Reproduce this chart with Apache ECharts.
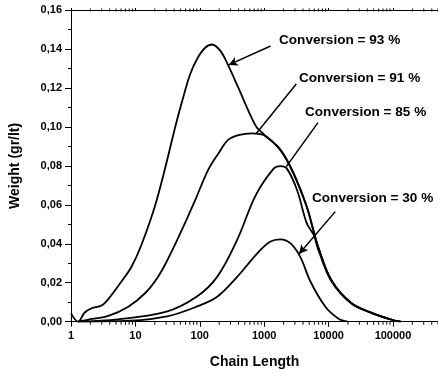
<!DOCTYPE html>
<html>
<head>
<meta charset="utf-8">
<script src="https://cdn.jsdelivr.net/npm/echarts@6/dist/echarts.min.js"></script>
<style>
html,body{margin:0;padding:0;background:#fff;}
#chart{width:438px;height:376px;}
</style>
</head>
<body>
<div id="chart"></div>
<script>
// ---- data ----
const chainLength93 = [1, 1.29, 1.62, 2.09, 2.82, 3.31, 4.27, 6.03, 8.71, 12.6, 21.4, 44.7, 56.2, 70.8, 91.2, 120, 155, 209, 275, 398, 631, 776, 933, 1096, 1778, 2818, 4571, 5888, 6918, 10965, 22387, 46774, 95499, 131826];
const weight93      = [0.0043, 0.0, 0.0046, 0.0069, 0.0080, 0.0094, 0.0137, 0.0205, 0.0282, 0.040, 0.0624, 0.104, 0.116, 0.127, 0.135, 0.1405, 0.1423, 0.139, 0.1317, 0.120, 0.105, 0.0995, 0.097, 0.0948, 0.0885, 0.0768, 0.0593, 0.0463, 0.0383, 0.0216, 0.0097, 0.0045, 0.001, 0.0];

const chainLength91 = [1.29, 2.09, 3.8, 7.76, 14.1, 22.4, 32.4, 52.5, 85.1, 135, 195, 275, 398, 646, 977, 1778, 2818, 4571, 5888, 6918, 10965, 22387, 46774, 95499, 131826];
const weight91      = [0.0, 0.0014, 0.003, 0.0077, 0.0146, 0.023, 0.0325, 0.047, 0.0625, 0.0779, 0.0864, 0.0933, 0.0958, 0.0967, 0.0958, 0.088, 0.0763, 0.059, 0.046, 0.038, 0.0214, 0.0096, 0.0045, 0.001, 0.0];

const chainLength85 = [1.29, 5.37, 29.5, 89.1, 186, 380, 741, 1413, 1778, 2239, 3236, 4571, 5888, 6918, 10965, 22387, 46774, 95499, 131826];
const weight85      = [0.0, 0.0012, 0.005, 0.0128, 0.023, 0.042, 0.065, 0.0787, 0.0799, 0.0787, 0.0676, 0.0506, 0.0445, 0.037, 0.021, 0.0094, 0.0044, 0.001, 0.0];

const chainLength30 = [1.29, 8.3, 32.4, 89.1, 186, 380, 776, 1230, 1778, 2570, 3631, 5248, 8913, 14125, 19953];
const weight30      = [0.0, 0.0005, 0.0029, 0.0077, 0.0128, 0.023, 0.035, 0.041, 0.0423, 0.0402, 0.0333, 0.0205, 0.0077, 0.0017, 0.0];

const seriesNames = ['Conversion = 93 %', 'Conversion = 91 %', 'Conversion = 85 %', 'Conversion = 30 %'];
// arrows: [fromX, fromY, toX, toY, hasHead]
const arrows = [
  [1259, 0.1415, 281, 0.1318, true],
  [3148, 0.1220, 754, 0.0966, false],
  [6842, 0.1022, 2203, 0.0796, false],
  [12700, 0.0565, 3470, 0.0348, true]
];
const xTickLabels = [1, 10, 100, 1000, 10000, 100000];
const yMin = 0, yMax = 0.16, yInterval = 0.02;
const xMin = 1, xMax = 500000;

// minor tick positions (2..9 × decades) for the log axis
const minorTicks = [];
for (let d = 1; d <= 100000; d *= 10) {
  for (let m = 2; m <= 9; m++) { const v = m * d; if (v <= xMax) minorTicks.push(v); }
}

function pairs(xs, ys) { return xs.map((x, i) => [x, ys[i]]); }

const FONT = '"Liberation Sans", Arial, sans-serif';
const chart = echarts.init(document.getElementById('chart'), null, {renderer: 'canvas'});

const lineSeries = [
  [chainLength93, weight93], [chainLength91, weight91], [chainLength85, weight85], [chainLength30, weight30]
].map((d, i) => ({
  name: seriesNames[i],
  type: 'line',
  data: pairs(d[0], d[1]),
  smooth: 0.35,
  showSymbol: false,
  symbol: 'none',
  lineStyle: {color: '#000', width: 1.8},
  animation: false,
  silent: true,
  z: 3
}));

// arrows as a markLine on a helper series, in data coordinates
const arrowSeries = {
  type: 'line',
  data: [],
  silent: true,
  animation: false,
  markLine: {
    silent: true,
    animation: false,
    label: {show: false},
    lineStyle: {color: '#000', width: 1.5, type: 'solid'},
    data: arrows.map(a => [
      {coord: [a[0], a[1]], symbol: 'none'},
      {coord: [a[2], a[3]], symbol: a[4] ? 'arrow' : 'none', symbolSize: [7, 9]}
    ])
  }
};

const minorTickSeries = {
  type: 'custom',
  data: minorTicks.map(v => [v]),
  silent: true,
  animation: false,
  clip: false,
  renderItem: function (params, api) {
    const x = api.value(0);
    const b = api.coord([x, yMin]);
    const t = api.coord([x, yMax]);
    return {
      type: 'group',
      children: [
        {type: 'line', shape: {x1: b[0], y1: b[1], x2: b[0], y2: b[1] + 3}, style: {stroke: '#000', lineWidth: 1}},
        {type: 'line', shape: {x1: t[0], y1: t[1] - 1.5, x2: t[0], y2: t[1] + 1.5}, style: {stroke: '#000', lineWidth: 1}}
      ]
    };
  }
};

const textStyleLbl = {fontFamily: FONT, fontWeight: 'bold', fontSize: 13.6, fill: '#000'};
const labelPos = [[279, 41.7], [299, 79.3], [305, 113.3], [312, 199]];

chart.setOption({
  backgroundColor: '#fff',
  animation: false,
  grid: {left: 71, right: 0, top: 10, bottom: 54.3, containLabel: false},
  xAxis: [{
    type: 'log',
    logBase: 10,
    min: xMin,
    max: xMax,
    name: 'Chain Length',
    nameLocation: 'middle',
    nameGap: 33,
    nameTextStyle: {fontFamily: FONT, fontWeight: 'bold', fontSize: 14, color: '#000'},
    axisLine: {show: true, lineStyle: {color: '#000', width: 1}},
    axisTick: {show: true, length: 5, lineStyle: {color: '#000'}},
    minorTick: {show: false},
    splitLine: {show: false},
    axisLabel: {
      fontFamily: FONT, fontWeight: 'bold', fontSize: 11, color: '#000', margin: 9,
      showMaxLabel: false,
      formatter: function (v) {
        const r = Math.round(v);
        return xTickLabels.indexOf(r) >= 0 ? String(r) : '';
      }
    }
  }, {
    type: 'log',
    logBase: 10,
    min: xMin,
    max: xMax,
    position: 'top',
    axisLine: {show: true, lineStyle: {color: '#000', width: 1}},
    axisTick: {show: true, length: 2, inside: false, lineStyle: {color: '#000'}},
    axisLabel: {show: false},
    splitLine: {show: false}
  }],
  yAxis: {
    type: 'value',
    min: yMin,
    max: yMax,
    interval: yInterval,
    name: 'Weight (gr/lt)',
    nameLocation: 'middle',
    nameGap: 49,
    nameTextStyle: {fontFamily: FONT, fontWeight: 'bold', fontSize: 14, color: '#000'},
    axisLine: {show: true, lineStyle: {color: '#000', width: 1}},
    axisTick: {show: true, length: 6, lineStyle: {color: '#000'}},
    minorTick: {show: true, splitNumber: 2, length: 3, lineStyle: {color: '#000'}},
    splitLine: {show: false},
    axisLabel: {
      fontFamily: FONT, fontWeight: 'bold', fontSize: 11, color: '#000', margin: 9,
      formatter: v => v.toFixed(2).replace('.', ',')
    }
  },
  graphic: seriesNames.map((n, i) => ({
    type: 'text',
    left: labelPos[i][0],
    top: labelPos[i][1] - 8,
    silent: true,
    style: Object.assign({text: n}, textStyleLbl)
  })),
  series: lineSeries.concat([arrowSeries, minorTickSeries])
});
</script>
</body>
</html>
